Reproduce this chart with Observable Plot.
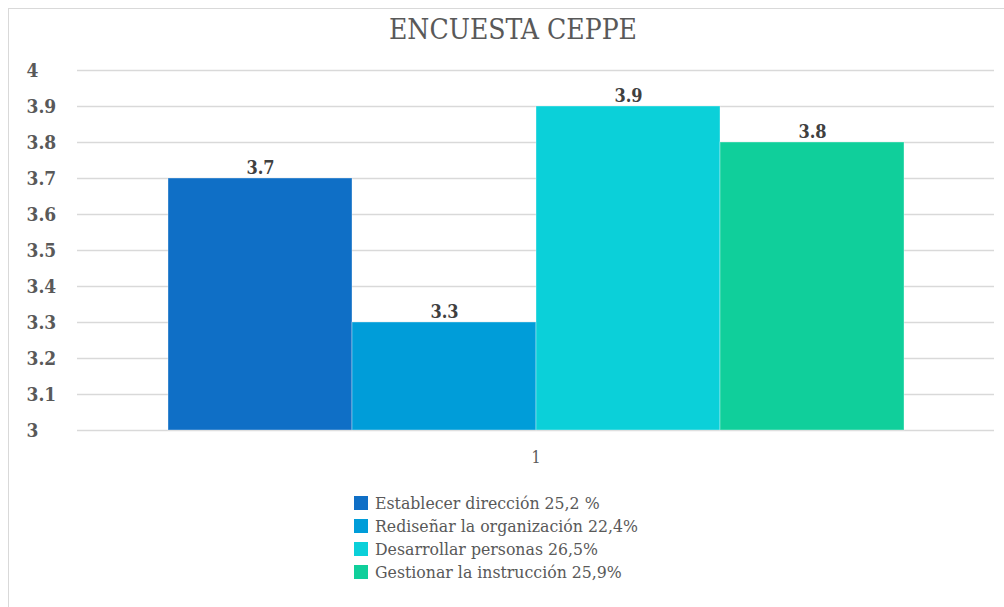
<!DOCTYPE html>
<html>
<head>
<meta charset="utf-8">
<script src="https://cdn.jsdelivr.net/npm/d3@7"></script>
<script src="https://cdn.jsdelivr.net/npm/@observablehq/plot@0.6"></script>
<style>
  html, body { margin: 0; padding: 0; background: #fff; }
  #wrap { position: relative; width: 1004px; height: 607px; overflow: hidden; }
  #frame { position: absolute; left: 8px; top: 8px; width: 1100px; height: 700px;
           border-left: 1px solid #d9d9d9; border-top: 1px solid #d9d9d9; }
  #title { position: absolute; left: 8px; width: 1010px; top: 13px; text-align: center;
           font-family: "DejaVu Serif", serif; font-stretch: condensed; font-size: 28px; color: #595959; }
  #chart { position: absolute; left: 0; top: 0; }
  #legend { position: absolute; left: 354px; top: 491px;
            font-family: "DejaVu Serif", serif; font-stretch: condensed; font-size: 17.5px; color: #595959; }
  .row { display: flex; align-items: center; height: 23px; white-space: nowrap; }
  .sw { width: 14px; height: 14px; margin-right: 7px; }
</style>
</head>
<body>
<div id="wrap">
  <div id="frame"></div>
  <div id="chart"></div>
  <div id="title">ENCUESTA CEPPE</div>
  <div id="legend"></div>
</div>
<script>
const title = "ENCUESTA CEPPE";
const grupo = ["1"];
const series = [
  "Establecer dirección 25,2 %",
  "Rediseñar la organización 22,4%",
  "Desarrollar personas 26,5%",
  "Gestionar la instrucción 25,9%"
];
const valores = [3.7, 3.3, 3.9, 3.8];
const colores = ["#0F6FC6", "#009DD9", "#0BD0D9", "#10CF9B"];
const yDomain = [3, 4];
const yTicks = [3, 3.1, 3.2, 3.3, 3.4, 3.5, 3.6, 3.7, 3.8, 3.9, 4];

const data = series.map((s, i) => ({grupo: grupo[0], serie: s, valor: valores[i]}));
const serif = '"DejaVu Serif", serif';

const chart = Plot.plot({
  width: 1004,
  height: 475,
  marginTop: 70,
  marginBottom: 45,
  marginLeft: 77,
  marginRight: 10,
  style: {fontFamily: serif, fontStretch: "condensed", background: "transparent"},
  fx: {domain: grupo, padding: 0, label: null},
  x: {domain: series, paddingInner: 0, paddingOuter: 0.485, axis: null},
  y: {domain: yDomain, axis: null, label: null},
  color: {domain: series, range: colores},
  marks: [
    Plot.gridY(yTicks, {stroke: "#d9d9d9", strokeOpacity: 1, strokeWidth: 1.5}),
    Plot.barY(data, {fx: "grupo", x: "serie", y1: () => yDomain[0], y2: "valor", fill: "serie",
                     stroke: "#ffffff", strokeOpacity: 0.35, strokeWidth: 1}),
    Plot.text(data, {fx: "grupo", x: "serie", y: "valor", text: d => d.valor.toFixed(1),
                     lineAnchor: "bottom", dy: -5, fontSize: 18, fontWeight: "bold", fill: "#404040"}),
    Plot.axisY(yTicks, {tickSize: 0, textAnchor: "start", dx: -42, fontSize: 19, fontWeight: "bold",
                        fill: "#595959", tickFormat: d => String(d), label: null}),
    Plot.axisFx({anchor: "bottom", tickSize: 0, fontSize: 16, fill: "#595959", dy: 12, label: null})
  ]
});
document.getElementById("chart").appendChild(chart);
document.getElementById("title").textContent = title;

const legend = document.getElementById("legend");
series.forEach((s, i) => {
  const row = document.createElement("div");
  row.className = "row";
  const sw = document.createElement("span");
  sw.className = "sw";
  sw.style.background = colores[i];
  const tx = document.createElement("span");
  tx.textContent = s;
  row.appendChild(sw);
  row.appendChild(tx);
  legend.appendChild(row);
});
</script>
</body>
</html>
